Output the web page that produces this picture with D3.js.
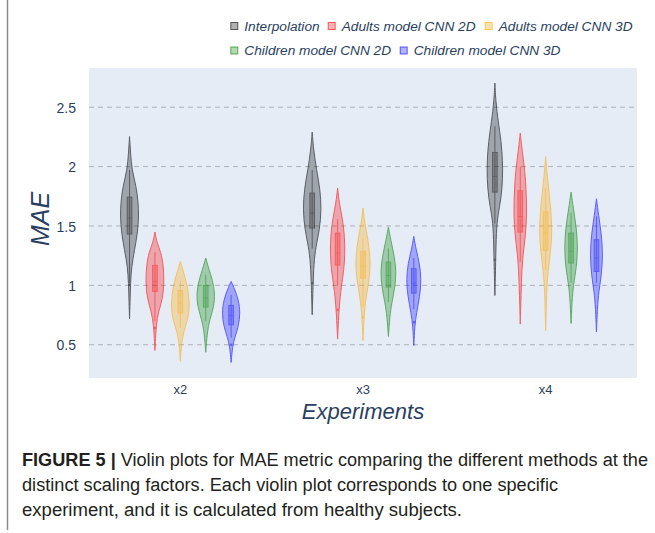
<!DOCTYPE html>
<html>
<head>
<meta charset="utf-8">
<script src="https://cdn.jsdelivr.net/npm/d3@7"></script>
<style>
  html, body { margin: 0; padding: 0; background: #fff; }
  svg { display: block; }
</style>
</head>
<body>
<svg id="chart" width="655" height="533"></svg>
<script>
// ---------------- DATA ----------------
const experiments = ["x2", "x3", "x4"];
const methods = ["Interpolation", "Adults model CNN 2D", "Adults model CNN 3D",
                 "Children model CNN 2D", "Children model CNN 3D"];
const methodColors = ["#000000", "#ff0000", "#ffa500", "#008000", "#0000ff"];
const yTicks = [0.5, 1, 1.5, 2, 2.5];

// density profiles: [MAE value, relative density width], one entry per experiment
const interpolationDensity = [
  [[2.253,0],[2.114,0.11],[1.973,0.25],[1.833,0.73],[1.693,0.95],[1.58,1],[1.44,0.87],[1.3,0.55],[1.159,0.22],[1.019,0.11],[0.85,0.05],[0.719,0]],
  [[2.29,0],[2.141,0.15],[1.973,0.47],[1.805,0.87],[1.637,1],[1.468,0.8],[1.328,0.4],[1.187,0.18],[0.991,0.09],[0.753,0]],
  [[2.703,0],[2.548,0.1],[2.38,0.36],[2.212,0.69],[2.044,0.84],[1.903,0.85],[1.735,0.69],[1.594,0.33],[1.454,0.15],[1.201,0.09],[0.915,0]]
];
const adults2dDensity = [
  [[1.449,0],[1.356,0.22],[1.281,0.65],[1.168,0.92],[1.028,1],[0.888,0.85],[0.776,0.37],[0.664,0.15],[0.55,0.06],[0.452,0]],
  [[1.819,0],[1.693,0.18],[1.553,0.55],[1.412,0.76],[1.272,0.8],[1.131,0.69],[0.991,0.4],[0.823,0.18],[0.711,0.1],[0.548,0]],
  [[2.282,0],[2.128,0.22],[1.959,0.51],[1.791,0.65],[1.594,0.71],[1.426,0.58],[1.258,0.29],[1.089,0.15],[0.85,0.06],[0.674,0]]
];
const adults3dDensity = [
  [[1.201,0],[1.103,0.37],[0.991,0.8],[0.851,1],[0.739,0.9],[0.655,0.55],[0.571,0.25],[0.47,0.08],[0.36,0]],
  [[1.651,0],[1.525,0.18],[1.384,0.55],[1.216,0.82],[1.075,0.73],[0.935,0.4],[0.795,0.15],[0.536,0]],
  [[2.085,0],[1.931,0.15],[1.791,0.36],[1.622,0.58],[1.454,0.69],[1.285,0.55],[1.117,0.25],[0.949,0.1],[0.618,0]]
];
const children2dDensity = [
  [[1.23,0],[1.132,0.36],[1.048,0.72],[0.936,1],[0.824,0.9],[0.711,0.43],[0.599,0.15],[0.436,0]],
  [[1.491,0],[1.384,0.25],[1.244,0.65],[1.118,0.85],[0.991,0.73],[0.851,0.36],[0.739,0.15],[0.57,0]],
  [[1.785,0],[1.65,0.25],[1.482,0.58],[1.314,0.73],[1.145,0.58],[1.005,0.25],[0.865,0.1],[0.679,0]]
];
const children3dDensity = [
  [[1.033,0],[0.963,0.4],[0.879,0.8],[0.767,1],[0.655,0.8],[0.571,0.44],[0.487,0.15],[0.351,0]],
  [[1.412,0],[1.3,0.25],[1.187,0.62],[1.047,0.82],[0.907,0.65],[0.767,0.29],[0.655,0.1],[0.494,0]],
  [[1.729,0],[1.594,0.22],[1.426,0.55],[1.258,0.69],[1.089,0.55],[0.949,0.25],[0.809,0.1],[0.607,0]]
];

// box statistics per experiment: [lower whisker, q1, median, q3, upper whisker]
const interpolationBox = [[1.02,1.432,1.566,1.743,1.97],[1.31,1.482,1.608,1.777,1.97],[1.52,1.785,1.917,2.119,2.34]];
const adults2dBox      = [[0.70,0.949,1.033,1.168,1.28],[1.00,1.171,1.272,1.44,1.56],[1.20,1.449,1.58,1.796,2.0]];
const adults3dBox      = [[0.64,0.767,0.851,0.957,1.04],[0.82,1.061,1.159,1.285,1.39],[1.13,1.294,1.44,1.62,1.82]];
const children2dBox    = [[0.70,0.817,0.893,0.999,1.09],[0.86,0.986,1.083,1.196,1.31],[1.02,1.188,1.286,1.44,1.61]];
const children3dBox    = [[0.56,0.668,0.744,0.831,0.92],[0.80,0.935,1.019,1.14,1.23],[1.02,1.117,1.23,1.384,1.58]];

// outliers per experiment
const interpolationOutliers = [[1.005],[1.02],[1.216]];
const adults2dOutliers      = [[0.64],[0.795],[]];
const adults3dOutliers      = [[],[0.73],[]];
const children2dOutliers    = [[],[],[]];
const children3dOutliers    = [[0.5],[0.69],[]];

const densities = [interpolationDensity, adults2dDensity, adults3dDensity, children2dDensity, children3dDensity];
const boxes = [interpolationBox, adults2dBox, adults3dBox, children2dBox, children3dBox];
const outliers = [interpolationOutliers, adults2dOutliers, adults3dOutliers, children2dOutliers, children3dOutliers];

const captionLines = [
  ["FIGURE 5 | ", "Violin plots for MAE metric comparing the different methods at the"],
  ["", "distinct scaling factors. Each violin plot corresponds to one specific"],
  ["", "experiment, and it is calculated from healthy subjects."]
];

// ---------------- LAYOUT ----------------
const svg = d3.select("#chart");
const plot = { left: 89, right: 637, top: 68, bottom: 378 };
const textColor = "#2a3f5f";
const fontMain = "'Liberation Sans', Arial, sans-serif";

const y = d3.scaleLinear().domain([0.22, 2.83]).range([plot.bottom, plot.top]);
const x0 = d3.scaleBand().domain(experiments).range([plot.left, plot.right]);
const x1 = d3.scalePoint().domain(methods).range([-50.8, 50.8]);
const wScale = d3.scaleLinear().domain([0, 1]).range([0, 9.2]);

// left border line of the figure panel
svg.append("line").attr("x1", 7.5).attr("x2", 7.5).attr("y1", 0).attr("y2", 530)
  .attr("stroke", "#8a8a8a").attr("stroke-width", 1.5);

// plot background
svg.append("rect").attr("x", plot.left).attr("y", plot.top)
  .attr("width", plot.right - plot.left).attr("height", plot.bottom - plot.top)
  .attr("fill", "#e5ecf6");

// gridlines
svg.append("g").selectAll("line").data(yTicks).join("line")
  .attr("x1", plot.left).attr("x2", plot.right)
  .attr("y1", d => y(d)).attr("y2", d => y(d))
  .attr("stroke", "#aeb1b6").attr("stroke-width", 1).attr("stroke-dasharray", "5,4");

// y axis
const yAxis = d3.axisLeft(y).tickValues(yTicks).tickSize(0).tickPadding(0)
  .tickFormat(d => d3.format("")(d));
const yg = svg.append("g").attr("transform", `translate(76,0)`).call(yAxis);
yg.select(".domain").remove();
yg.selectAll("text").attr("fill", textColor).attr("font-size", 14)
  .attr("font-family", fontMain).attr("dy", "0.36em");

// x axis
const xAxis = d3.axisBottom(x0).tickSize(0).tickPadding(0);
const xg = svg.append("g").attr("transform", `translate(0,384)`).call(xAxis);
xg.select(".domain").remove();
xg.selectAll("text").attr("fill", textColor).attr("font-size", 13)
  .attr("font-family", fontMain).attr("dy", "0.8em");

// axis titles
svg.append("text").attr("x", 363).attr("y", 418.5).attr("text-anchor", "middle")
  .attr("font-family", fontMain).attr("font-style", "italic").attr("font-size", 22)
  .attr("fill", textColor).text("Experiments");
svg.append("text").attr("transform", "translate(48.5,219) rotate(-90)")
  .attr("text-anchor", "middle").attr("font-family", fontMain).attr("font-style", "italic")
  .attr("font-size", 25).attr("fill", textColor).text("MAE");

// violins
const area = d3.area()
  .curve(d3.curveBasis);

methods.forEach((m, mi) => {
  const color = methodColors[mi];
  experiments.forEach((e, ei) => {
    const cx = x0(e) + x0.bandwidth() / 2 + x1(m);
    const g = svg.append("g").attr("opacity", 0.6);
    const dens = densities[mi][ei];
    area.y(d => y(d[0])).x0(d => cx - wScale(d[1])).x1(d => cx + wScale(d[1]));
    g.append("path").datum(dens).attr("d", area)
      .attr("fill", color).attr("fill-opacity", 0.5)
      .attr("stroke", color).attr("stroke-width", 1).attr("stroke-linejoin", "round");
    const [wl, q1, med, q3, wh] = boxes[mi][ei];
    const bw = wScale(0.25);
    g.append("line").attr("x1", cx).attr("x2", cx).attr("y1", y(wl)).attr("y2", y(wh))
      .attr("stroke", color).attr("stroke-width", 1);
    g.append("rect").attr("x", cx - bw).attr("width", bw * 2)
      .attr("y", y(q3)).attr("height", y(q1) - y(q3))
      .attr("fill", color).attr("fill-opacity", 0.5)
      .attr("stroke", color).attr("stroke-width", 1);
    g.append("line").attr("x1", cx - bw).attr("x2", cx + bw).attr("y1", y(med)).attr("y2", y(med))
      .attr("stroke", color).attr("stroke-width", 1);
    g.selectAll("circle.out").data(outliers[mi][ei]).join("circle")
      .attr("class", "out").attr("cx", cx).attr("cy", d => y(d)).attr("r", 1.3)
      .attr("fill", color);
  });
});

// legend
const legendRows = [
  [{ i: 0, x: 234.3 }, { i: 1, x: 331.7 }, { i: 2, x: 488.7 }],
  [{ i: 3, x: 234.3 }, { i: 4, x: 403.7 }]
];
const rowY = [26, 50.5];
legendRows.forEach((row, ri) => {
  row.forEach(it => {
    const g = svg.append("g");
    g.append("rect").attr("x", it.x - 3.5).attr("y", rowY[ri] - 3.5)
      .attr("width", 7).attr("height", 7)
      .attr("fill", methodColors[it.i]).attr("fill-opacity", 0.3)
      .attr("stroke", methodColors[it.i]).attr("stroke-opacity", 0.6).attr("stroke-width", 1);
    g.append("text").attr("x", it.x + 10).attr("y", rowY[ri]).attr("dy", "0.36em")
      .attr("font-family", fontMain).attr("font-style", "italic").attr("font-size", 13.7)
      .attr("fill", textColor).text(methods[it.i]);
  });
});

// caption
const capWidths = [626, 536, 440];
const capBase = [466, 491, 516];
captionLines.forEach((ln, i) => {
  const t = svg.append("text").attr("x", 22).attr("y", capBase[i])
    .attr("font-family", "'Liberation Sans Narrow', 'Arial Narrow', 'Liberation Sans', sans-serif")
    .attr("font-size", 18).attr("fill", "#231f20")
    .attr("textLength", capWidths[i]).attr("lengthAdjust", "spacingAndGlyphs");
  if (ln[0]) t.append("tspan").attr("font-weight", "bold").text(ln[0]);
  t.append("tspan").text(ln[1]);
});
</script>
</body>
</html>
